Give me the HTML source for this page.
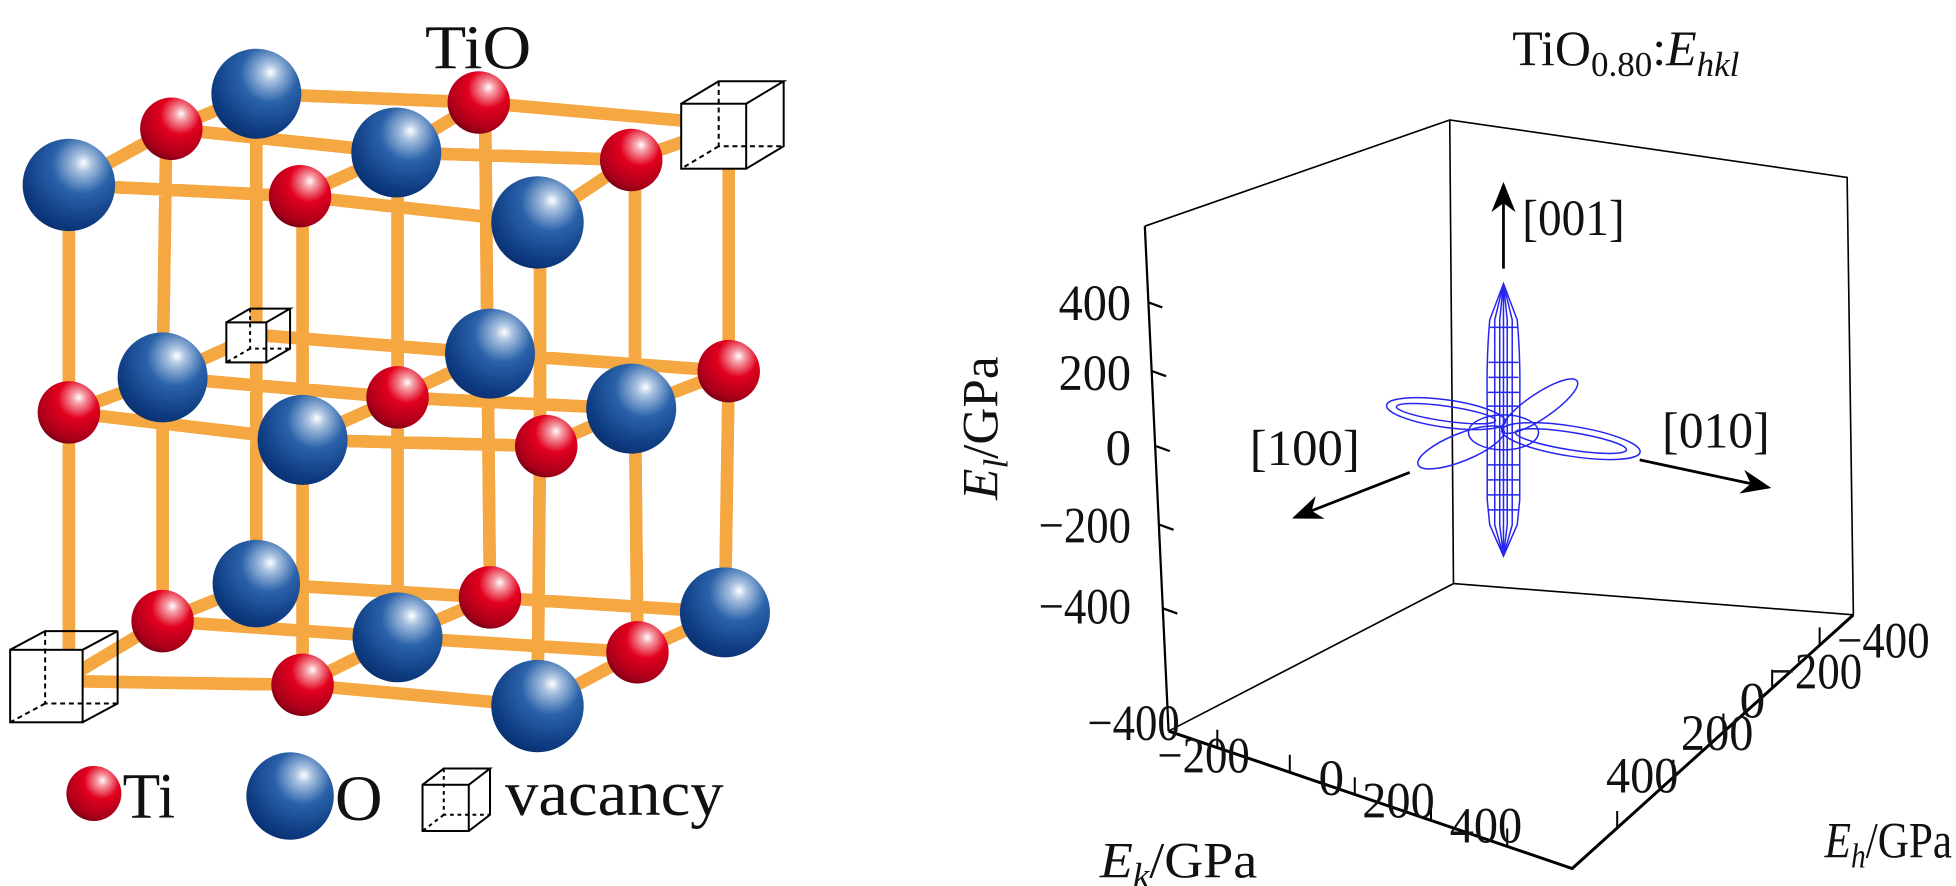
<!DOCTYPE html>
<html><head><meta charset="utf-8"><style>
html,body{margin:0;padding:0;background:#fff;}
svg{display:block;}
text{font-family:"Liberation Serif",serif;fill:#111;}
</style></head><body>
<svg width="1956" height="886" viewBox="0 0 1565 709" xmlns="http://www.w3.org/2000/svg">
<defs>
<radialGradient id="gO" cx="0.62" cy="0.3" r="0.8" fx="0.66" fy="0.26">
<stop offset="0" stop-color="#ffffff"/><stop offset="0.12" stop-color="#a9c2e0"/><stop offset="0.4" stop-color="#2a62aa"/><stop offset="0.8" stop-color="#0d3a80"/><stop offset="1" stop-color="#082c66"/></radialGradient>
<radialGradient id="gT" cx="0.62" cy="0.3" r="0.8" fx="0.66" fy="0.26">
<stop offset="0" stop-color="#ffffff"/><stop offset="0.12" stop-color="#f5a0a8"/><stop offset="0.4" stop-color="#e2001e"/><stop offset="0.8" stop-color="#a8001a"/><stop offset="1" stop-color="#5a0010"/></radialGradient>
<marker id="ah" viewBox="0 0 10 10" refX="9" refY="5" markerWidth="11" markerHeight="11" orient="auto"><path d="M0,1 L10,5 L0,9 L3,5 Z" fill="#000"/></marker>
</defs>

<g stroke-linecap="round" fill="none">
<path id="bonds" stroke="#f5a742" stroke-width="10" d="
M205,75L383,82M383,82L585,100M137,103L317,122M317,122L505,128M55,148L240,157M240,157L430,178
M205,268L392,283M392,283L583,297M130,302L318,318M318,318L505,327M55,330L242,352M242,352L437,357
M205,467L392,478M392,478L580,490M130,497L318,510M318,510L510,522M50,545L242,548M242,548L430,565
M205,75L137,103M137,103L55,148M383,82L317,122M317,122L240,157M585,100L505,128M505,128L430,178
M205,268L130,302M130,302L55,330M392,283L318,318M318,318L242,352M583,297L505,327M505,327L437,357
M205,467L130,497M130,497L50,545M392,478L318,510M318,510L242,548M580,490L510,522M510,522L430,565
M205,75L205,268M205,268L205,467M388,82L390,283M390,283L392,478M583,100L583,297M583,297L580,490
M133,103L130,302M130,302L130,497M318,122L318,318M318,318L318,510M508,128L508,327M508,327L510,522
M55,148L55,330M55,330L55,545M242,157L242,352M242,352L242,548M432,178L432,357M432,357L430,565"/>
<use href="#bonds" stroke="#fcd49a" stroke-width="3"/>
</g>

<g fill="#fff" stroke="#000" stroke-width="1.6">
<g><rect x="545" y="83" width="52" height="52"/>
<path d="M545,83L575,65L627,65L597,83M627,65L627,117L597,135" fill="none"/>
<path d="M575,65L575,117L627,117M575,117L545,135" fill="none" stroke-dasharray="4,3"/></g>
<g><rect x="181" y="258" width="32" height="32"/>
<path d="M181,258L200,247L232,247L213,258M232,247L232,279L213,290" fill="none"/>
<path d="M200,247L200,279L232,279M200,279L181,290" fill="none" stroke-dasharray="3,3"/></g>
<g><rect x="8" y="520" width="58" height="58"/>
<path d="M8,520L36,505L94,505L66,520M94,505L94,563L66,578" fill="none"/>
<path d="M36,505L36,563L94,563M36,563L8,578" fill="none" stroke-dasharray="4,3"/></g>
<g><rect x="338" y="628" width="37" height="37"/>
<path d="M338,628L355,615L392,615L375,628M392,615L392,652L375,665" fill="none"/>
<path d="M355,615L355,652L392,652M355,652L338,665" fill="none" stroke-dasharray="3,3"/></g>
</g>

<g>
<circle cx="205" cy="75" r="36" fill="url(#gO)"/><circle cx="383" cy="82" r="25" fill="url(#gT)"/>
<circle cx="392" cy="283" r="36" fill="url(#gO)"/><circle cx="583" cy="297" r="25" fill="url(#gT)"/>
<circle cx="205" cy="467" r="35" fill="url(#gO)"/><circle cx="392" cy="478" r="25" fill="url(#gT)"/><circle cx="580" cy="490" r="36" fill="url(#gO)"/>
<circle cx="137" cy="103" r="25" fill="url(#gT)"/><circle cx="317" cy="122" r="36" fill="url(#gO)"/><circle cx="505" cy="128" r="25" fill="url(#gT)"/>
<circle cx="130" cy="302" r="36" fill="url(#gO)"/><circle cx="318" cy="318" r="25" fill="url(#gT)"/><circle cx="505" cy="327" r="36" fill="url(#gO)"/>
<circle cx="130" cy="497" r="25" fill="url(#gT)"/><circle cx="318" cy="510" r="36" fill="url(#gO)"/><circle cx="510" cy="522" r="25" fill="url(#gT)"/>
<circle cx="55" cy="148" r="37" fill="url(#gO)"/><circle cx="240" cy="157" r="25" fill="url(#gT)"/><circle cx="430" cy="178" r="37" fill="url(#gO)"/>
<circle cx="55" cy="330" r="25" fill="url(#gT)"/><circle cx="242" cy="352" r="36" fill="url(#gO)"/><circle cx="437" cy="357" r="25" fill="url(#gT)"/>
<circle cx="242" cy="548" r="25" fill="url(#gT)"/><circle cx="430" cy="565" r="37" fill="url(#gO)"/>
<circle cx="75" cy="635" r="22" fill="url(#gT)"/><circle cx="232" cy="637" r="35" fill="url(#gO)"/>
</g>
<text x="340" y="55" font-size="50" textLength="85" lengthAdjust="spacingAndGlyphs">TiO</text>
<text x="98" y="654" font-size="52" textLength="42" lengthAdjust="spacingAndGlyphs">Ti</text>
<text x="268" y="656" font-size="52" textLength="38" lengthAdjust="spacingAndGlyphs">O</text>
<text x="404" y="652" font-size="52" textLength="175" lengthAdjust="spacingAndGlyphs">vacancy</text>

<text x="1210" y="52" font-size="40">TiO<tspan font-size="28" dy="9">0.80</tspan><tspan dy="-9">:</tspan><tspan font-style="italic">E</tspan><tspan font-size="28" dy="9" font-style="italic">hkl</tspan></text>

<g stroke="#000" fill="none" stroke-width="1.3">
<path d="M916,181L1160,96L1478,142L1483,492M1160,96L1163,467L935,585M1163,467L1483,492"/>
<path d="M916,181L935,585" stroke-width="1.8"/>
<path d="M935,585L1258,695L1483,492" stroke-width="2.4"/>
<path d="M919,242L930,246M922,297L933,301M925,357L936,361M928,420L939,424M931,487L942,491" stroke-width="1.8"/>
<path d="M974,598V584M1032,618V604M1084,636V622M1145,657V643M1206,677V663" stroke-width="1.6"/>
<path d="M1294,663V649M1339,622V608M1379,585V571M1418,550V536M1456,516V502" stroke-width="1.6"/>
</g>

<g font-size="41">
<text x="905" y="256" text-anchor="end" textLength="58" lengthAdjust="spacingAndGlyphs">400</text>
<text x="905" y="312" text-anchor="end" textLength="58" lengthAdjust="spacingAndGlyphs">200</text>
<text x="905" y="372" text-anchor="end">0</text>
<text x="905" y="434" text-anchor="end" textLength="74" lengthAdjust="spacingAndGlyphs">−200</text>
<text x="905" y="499" text-anchor="end" textLength="74" lengthAdjust="spacingAndGlyphs">−400</text>
<text x="870" y="592" textLength="74" lengthAdjust="spacingAndGlyphs">−400</text>
<text x="926" y="618" textLength="74" lengthAdjust="spacingAndGlyphs">−200</text>
<text x="1055" y="636">0</text>
<text x="1090" y="654" textLength="58" lengthAdjust="spacingAndGlyphs">200</text>
<text x="1160" y="674" textLength="58" lengthAdjust="spacingAndGlyphs">400</text>
<text x="1285" y="634" textLength="58" lengthAdjust="spacingAndGlyphs">400</text>
<text x="1345" y="600" textLength="58" lengthAdjust="spacingAndGlyphs">200</text>
<text x="1392" y="574">0</text>
<text x="1416" y="551" textLength="74" lengthAdjust="spacingAndGlyphs">−200</text>
<text x="1470" y="526" textLength="74" lengthAdjust="spacingAndGlyphs">−400</text>
<text x="880" y="702" textLength="126" lengthAdjust="spacingAndGlyphs"><tspan font-style="italic">E</tspan><tspan font-style="italic" font-size="28" dy="8">k</tspan><tspan dy="-8">/GPa</tspan></text>
<text x="1460" y="686" textLength="102" lengthAdjust="spacingAndGlyphs"><tspan font-style="italic">E</tspan><tspan font-style="italic" font-size="28" dy="8">h</tspan><tspan dy="-8">/GPa</tspan></text>
<text transform="translate(798,400) rotate(-90)"><tspan font-style="italic">E</tspan><tspan font-style="italic" font-size="28" dy="8">l</tspan><tspan dy="-8">/GPa</tspan></text>
<text x="1218" y="188" textLength="82" lengthAdjust="spacingAndGlyphs">[001]</text>
<text x="1000" y="372" textLength="88" lengthAdjust="spacingAndGlyphs">[100]</text>
<text x="1330" y="358" textLength="86" lengthAdjust="spacingAndGlyphs">[010]</text>
</g>

<g stroke="#000" stroke-width="2.2" fill="none">
<line x1="1203" y1="215" x2="1203" y2="148" marker-end="url(#ah)"/>
<line x1="1128" y1="378" x2="1036" y2="414" marker-end="url(#ah)"/>
<line x1="1312" y1="368" x2="1415" y2="390" marker-end="url(#ah)"/>
</g>

<g stroke="#2626f0" stroke-width="1.2" fill="none">
<ellipse cx="1157" cy="331" rx="48" ry="11" transform="rotate(8 1157 331)"/>
<ellipse cx="1157" cy="331" rx="40" ry="6" transform="rotate(8 1157 331)"/>
<ellipse cx="1232" cy="325" rx="36" ry="10" transform="rotate(-34 1232 325)"/>
<ellipse cx="1169" cy="358" rx="37" ry="11" transform="rotate(-22 1169 358)"/>
<ellipse cx="1257" cy="353" rx="56" ry="12" transform="rotate(9 1257 353)"/>
<ellipse cx="1257" cy="353" rx="45" ry="7" transform="rotate(9 1257 353)"/>
<ellipse cx="1203" cy="346" rx="28" ry="14"/>
<path d="M1203,227L1192,256C1189,290 1190,315 1190,335C1190,350 1190,370 1190,400L1192,420L1203,445L1214,420L1216,400C1216,370 1216,350 1216,335C1216,315 1217,290 1214,256Z"/>
<path d="M1203,227L1196,256V420L1203,445M1203,227L1200,256V420L1203,445M1203,227V445M1203,227L1206,256V420L1203,445M1203,227L1210,256V420L1203,445"/>
<path d="M1191,290H1215M1191,302H1215M1190,314H1216M1190,325H1216M1190,372H1216M1190,384H1216M1190,396H1216M1191,408H1215M1192,262H1214"/>
</g>
</svg>
</body></html>
